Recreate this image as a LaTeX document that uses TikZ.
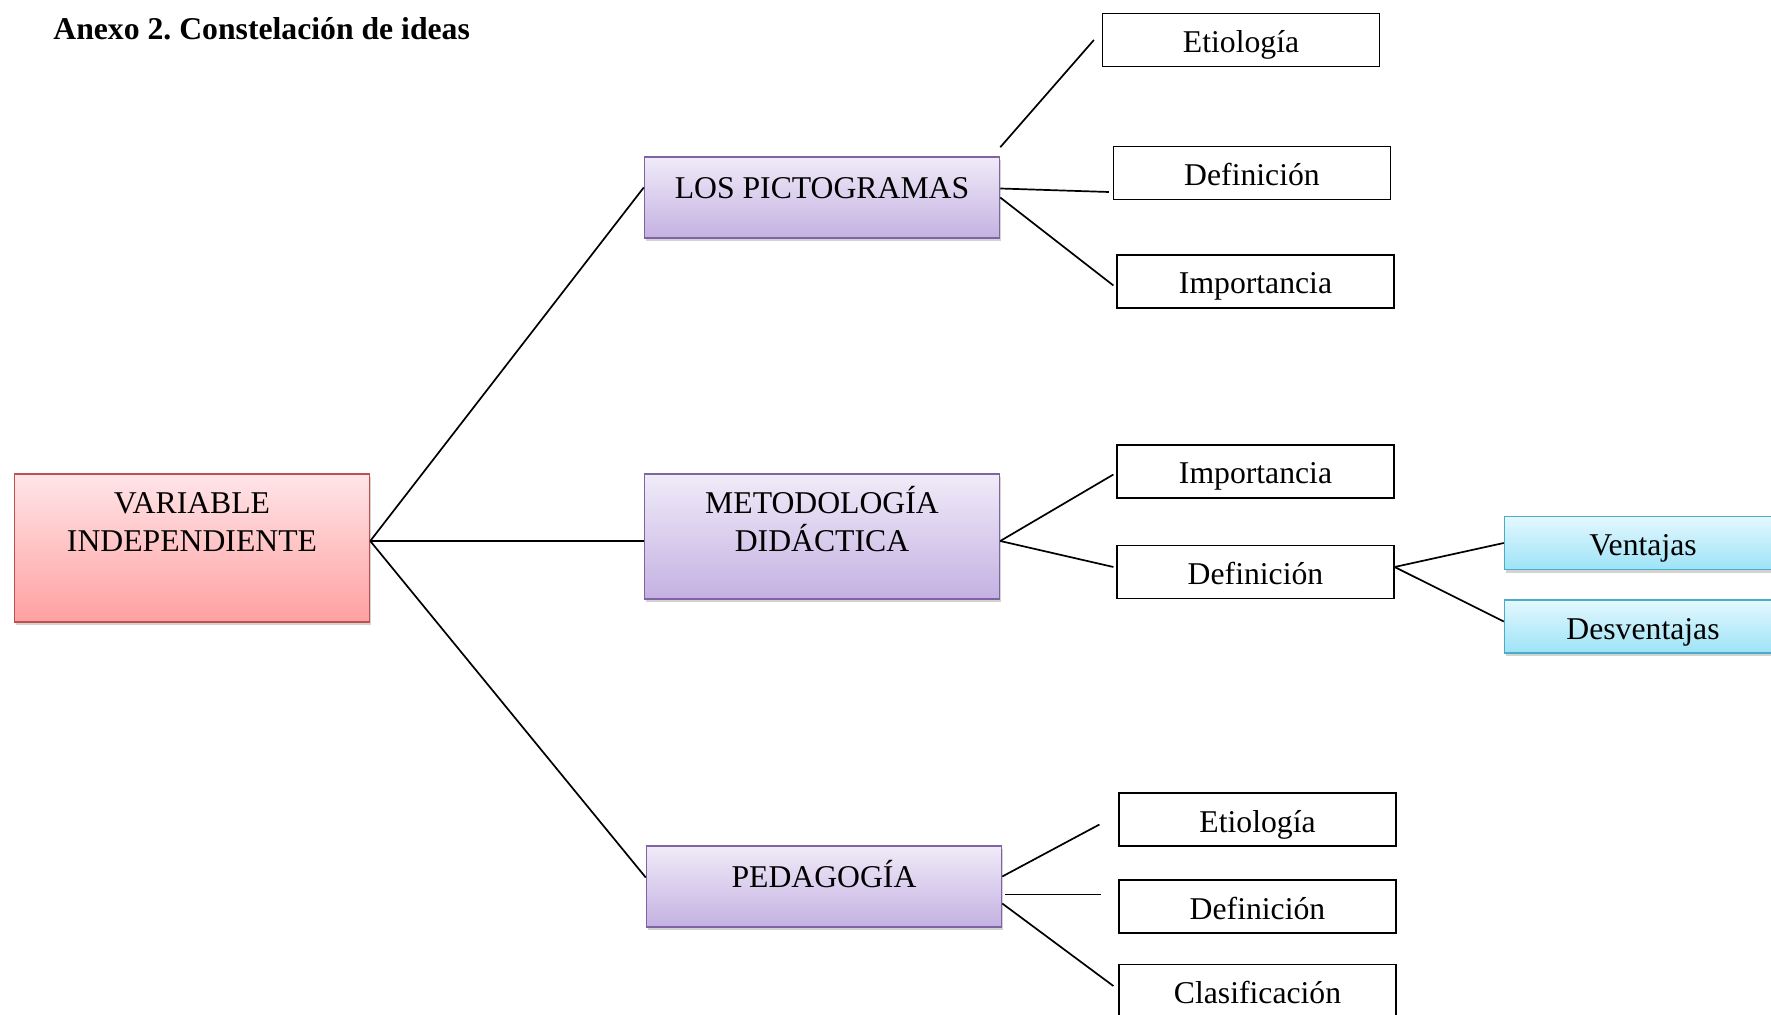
\documentclass[tikz,border=0pt]{standalone}
\usepackage{fontspec}
\setmainfont{Liberation Serif}
\usepackage{tikz}
\usetikzlibrary{shadows}
\frenchspacing

\definecolor{redtop}{HTML}{FFE5E8}
\definecolor{redbot}{HTML}{FFA0A0}
\definecolor{redline}{HTML}{C0504D}
\definecolor{purtop}{HTML}{F0EBF8}
\definecolor{purbot}{HTML}{C4B1E2}
\definecolor{purline}{HTML}{8064A2}
\definecolor{cyantop}{HTML}{E4F8FE}
\definecolor{cyanbot}{HTML}{9DE3F7}
\definecolor{cyanline}{HTML}{4BACC6}

\begin{document}
\begin{tikzpicture}[
    x=0.5pt, y=-0.5pt,
    every node/.style={font=\fontsize{15.85}{19}\selectfont},
    colbox/.style={
        rectangle, inner sep=0pt, line width=0.75pt,
        minimum width=177.5pt,
        drop shadow={shadow xshift=0.8pt, shadow yshift=-1.6pt, opacity=0.35}
    },
    redbox/.style={colbox, draw=redline, top color=redtop, bottom color=redbot},
    purbox/.style={colbox, draw=purline, top color=purtop, bottom color=purbot},
    cyanbox/.style={
        rectangle, draw=cyanline, line width=0.75pt, top color=cyantop, bottom color=cyanbot,
        minimum width=138.5pt, minimum height=26.5pt, text height=14pt, text depth=1.5pt,
        drop shadow={shadow xshift=0.8pt, shadow yshift=-1.6pt, opacity=0.35}
    },
    leaf/.style={
        rectangle, draw, line width=0.6pt, minimum width=138.5pt, minimum height=26.5pt,
        text height=14pt, text depth=1.5pt
    },
    txt/.style={anchor=base, yshift=-21pt, align=center, inner sep=0pt},
    txttwo/.style={txt, yshift=-18.3pt},
    link/.style={line width=0.85pt}
]
\useasboundingbox (0,0) rectangle (1771,1015);
\clip (0,0) rectangle (1771,1015);

\node[anchor=base west, inner sep=0pt, font=\fontsize{15.85}{19}\selectfont\bfseries] (title) at (53,40) {Anexo 2. Constelación de ideas};

% main boxes
\node[redbox, minimum height=74pt, label={[txttwo]north:VARIABLE\\INDEPENDIENTE}] (vi) at (192,548) {};
\node[purbox, minimum height=40.5pt, label={[txt]north:LOS PICTOGRAMAS}] (lp) at (822,197.5) {};
\node[purbox, minimum height=62.5pt, label={[txttwo]north:METODOLOGÍA\\DIDÁCTICA}] (md) at (822,536.5) {};
\node[purbox, minimum height=40.5pt, label={[txt]north:PEDAGOGÍA}] (ped) at (824,886.5) {};

% sub topics
\node[leaf] (eti1) at (1241,40) {Etiología};
\node[leaf] (def1) at (1252,173) {Definición};
\node[leaf] (imp1) at (1255.5,281.5) {Importancia};
\node[leaf] (imp2) at (1255.5,471.5) {Importancia};
\node[leaf] (def2) at (1255.5,572) {Definición};
\node[cyanbox] (ven) at (1643,543) {Ventajas};
\node[cyanbox] (des) at (1643,626.5) {Desventajas};
\node[leaf] (eti3) at (1257.5,819.5) {Etiología};
\node[leaf] (def3) at (1257.5,906.5) {Definición};
\node[leaf] (cla) at (1257.5,991) {Clasificación};

% connectors
\coordinate (hub) at ([yshift=3.5pt]vi.east);
\draw[link] (hub) -- ([yshift=5pt]lp.west);
\draw[link] (hub) -- (hub -| md.west);
\draw[link] (hub) -- ([yshift=4.5pt]ped.west);

\draw[link] ([yshift=4.5pt]lp.north east) -- ([xshift=-4pt]eti1.west);
\draw[link] ([yshift=4.5pt]lp.east) -- ([xshift=-2pt, yshift=-9.5pt]def1.west);
\draw[link] (lp.east) -- ([xshift=-1.5pt, yshift=-2pt]imp1.west);

\draw[link] ([yshift=-2.25pt]md.east) -- ([xshift=-1.5pt, yshift=-1.5pt]imp2.west);
\draw[link] ([yshift=-2.25pt]md.east) -- ([xshift=-1.5pt, yshift=2.5pt]def2.west);

\draw[link] ([yshift=2.5pt]def2.east) -- (ven.west);
\draw[link] ([yshift=2.5pt]def2.east) -- ([yshift=2.5pt]des.west);

\draw[link] ([yshift=5pt]ped.east) -- ([xshift=-9.5pt, yshift=-2.5pt]eti3.west);
\draw[link] ([xshift=1.5pt, yshift=-4pt]ped.east) -- ([xshift=-8.5pt, yshift=6pt]def3.west);
\draw[link] ([yshift=-8.5pt]ped.east) -- ([xshift=-2.5pt, yshift=2.5pt]cla.west);
\end{tikzpicture}
\end{document}
